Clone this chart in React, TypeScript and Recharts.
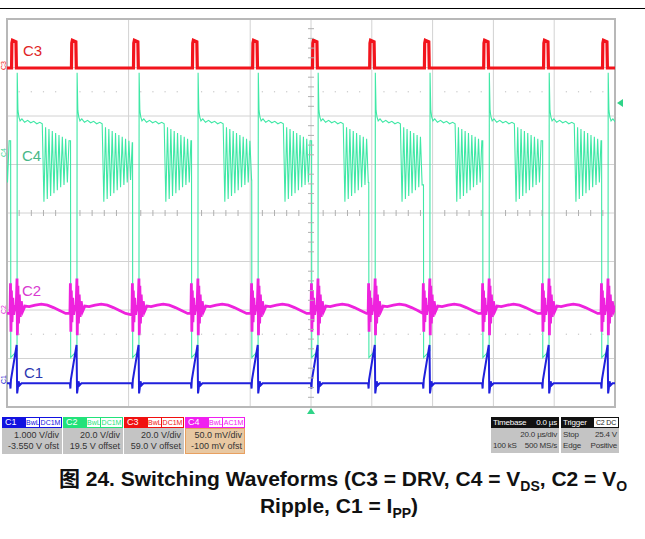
import React from "react";
import {
  ComposedChart,
  Line,
  XAxis,
  YAxis,
  CartesianGrid,
  Scatter,
  ReferenceDot,
  ReferenceArea,
} from "recharts";

// scope screen: 10 div x 20 µs, 8 vertical divisions; trace values are in divisions from the bottom
// (the 20 µs and 60 µs graticule lines are not visible in the capture)
const timeTicks = [0, 40, 80, 100, 120, 140, 160, 180, 200];
const divTicks = [0, 1, 2, 3, 4, 5, 6, 7, 8];

// turn-off instants of each switching cycle (µs)
const switchOff = [-16.4, 3.3, 23.0, 43.4, 62.8, 82.6, 102.3, 121.1, 139.1, 158.6, 178.3, 197.7, 217.2];
const onTime = 2.1;

// C3 = DRV pulse around each turn-off (dt µs / div)
const drvT = [-1.8, -1.7, -1.5, -0.35, -0.2];
const drvV = [6.99, 7.5, 7.56, 7.53, 6.99];

// C4 = VDS
const vdsOnV = [1.02, 1.16];
const vdsOffT = [0, 0.06, 0.3, 0.6, 1.0, 1.6, 2.5, 3.5, 4.5, 5.5, 6.5, 7.5, 8.3];
const vdsOffV = [1.16, 6.89, 6.12, 5.98, 5.9, 5.94, 5.87, 5.91, 5.86, 5.89, 5.84, 5.87, 5.84];
const ringStep = 0.55;
const vdsRing = [4.23, 5.77, 4.29, 5.73, 4.35, 5.69, 4.41, 5.65, 4.47, 5.61, 4.53, 5.57, 4.58, 5.53, 4.63, 5.49, 4.68, 5.45, 4.72, 5.42, 4.75, 5.4, 4.78, 5.38];

// C2 = VO ripple
const rippleSpikeT = [-2.3, -2.15, -2.0, -1.85, -1.65, -1.4, -1.1, -0.7, -0.3, 0, 0.12, 0.3, 0.5, 0.75, 1.05, 1.4, 1.9, 2.6];
const rippleSpikeV = [1.93, 2.55, 1.55, 2.4, 1.75, 2.25, 1.9, 2.1, 1.98, 2.65, 1.48, 2.5, 1.72, 2.32, 1.86, 2.18, 1.98, 2.08];
const rippleArcT = [4, 6, 8, 10, 12, 14, 16, 18];
const rippleArcV = [2.07, 2.1, 2.12, 2.1, 2.05, 1.99, 1.93, 1.9];

// C1 = IPP
const ippT = [-2.3, -2.15, -2.0, -0.12, 0.04, 0.25, 0.5, 0.9, 1.5];
const ippV = [0.49, 0.38, 0.56, 1.28, 0.28, 0.38, 0.53, 0.45, 0.49];

// minor graticule marks
const minorT = [4, 8, 12, 16, 24, 28, 32, 36, 44, 48, 52, 56, 64, 68, 72, 76, 84, 88, 92, 96, 104, 108, 112, 116, 124, 128, 132, 136, 144, 148, 152, 156, 164, 168, 172, 176, 184, 188, 192, 196];
const minorDiv = [0.2, 0.4, 0.6, 0.8, 1.2, 1.4, 1.6, 1.8, 2.2, 2.4, 2.6, 2.8, 3.2, 3.4, 3.6, 3.8, 4.2, 4.4, 4.6, 4.8, 5.2, 5.4, 5.6, 5.8, 6.2, 6.4, 6.6, 6.8, 7.2, 7.4, 7.6, 7.8];
const dotRows = [6.5, 1.5];

const chanBoxes = [
  { ch: "C1", color: "#1212e0", cpl: "DC1M", scale: "1.000 V/div", ofs: "-3.550 V ofst", body: "#c4c4c4", edge: "#c4c4c4" },
  { ch: "C2", color: "#22e27a", cpl: "DC1M", scale: "20.0 V/div", ofs: "19.5 V offset", body: "#c4c4c4", edge: "#c4c4c4" },
  { ch: "C3", color: "#f01010", cpl: "DC1M", scale: "20.0 V/div", ofs: "59.0 V offset", body: "#c4c4c4", edge: "#c4c4c4" },
  { ch: "C4", color: "#f020f0", cpl: "AC1M", scale: "50.0 mV/div", ofs: "-100 mV ofst", body: "#e8c8a2", edge: "#e8a060" },
];

type Pt = { t: number; v: number };

function buildDrv(): Pt[] {
  const out: Pt[] = [];
  switchOff.forEach((T) => drvT.forEach((dt, k) => out.push({ t: T + dt, v: drvV[k] })));
  return out;
}

function buildVds(): Pt[] {
  const out: Pt[] = [];
  for (let i = 0; i < switchOff.length - 1; i++) {
    const T = switchOff[i];
    const next = switchOff[i + 1];
    const nextOn = next - onTime;
    vdsOffT.forEach((dt, k) => out.push({ t: T + dt, v: vdsOffV[k] }));
    let t = T + vdsOffT[vdsOffT.length - 1];
    let last = vdsOffV[vdsOffV.length - 1];
    for (let k = 0; k < vdsRing.length; k++) {
      t += ringStep;
      if (t >= nextOn) break;
      out.push({ t, v: vdsRing[k] });
      last = vdsRing[k];
    }
    out.push({ t: nextOn, v: last });
    out.push({ t: nextOn + 0.05, v: vdsOnV[0] });
    out.push({ t: next - 0.02, v: vdsOnV[1] });
  }
  return out;
}

function buildRipple(): Pt[] {
  const out: Pt[] = [];
  switchOff.forEach((T, i) => {
    rippleSpikeT.forEach((dt, k) => out.push({ t: T + dt, v: rippleSpikeV[k] }));
    const next = switchOff[i + 1];
    if (next === undefined) return;
    rippleArcT.forEach((dt, k) => {
      if (T + dt < next + rippleSpikeT[0]) out.push({ t: T + dt, v: rippleArcV[k] });
    });
  });
  return out;
}

function buildIpp(): Pt[] {
  const out: Pt[] = [];
  switchOff.forEach((T) => ippT.forEach((dt, k) => out.push({ t: T + dt, v: ippV[k] })));
  return out;
}

const hTickData = minorT.map((t) => ({ t, v: 4 }));
const vTickData = minorDiv.map((v) => ({ t: 100, v }));
const dotData = dotRows.flatMap((v) => minorT.map((t) => ({ t, v })));

const narrow = "'Liberation Sans Narrow', 'Liberation Sans', Arial, sans-serif";

function ChannelBox({ b, left }: { b: (typeof chanBoxes)[number]; left: number }) {
  return (
    <div style={{ position: "absolute", left, top: 417, width: 60, height: 37, fontFamily: narrow, fontSize: 9 }}>
      <div style={{ position: "absolute", left: 0, top: 0, width: 60, height: 11, background: b.color }}>
        <span style={{ position: "absolute", left: 3, top: 0, color: "#fff", lineHeight: "11px" }}>{b.ch}</span>
        <span style={{ position: "absolute", left: 24, top: 1, width: 13, height: 9, background: "#fff", color: b.color, fontSize: 7, lineHeight: "9px", textAlign: "center" }}>BwL</span>
        <span style={{ position: "absolute", left: 38, top: 1, width: 21, height: 9, background: "#fff", color: b.color, fontSize: 7, lineHeight: "9px", textAlign: "center" }}>{b.cpl}</span>
      </div>
      <div style={{ position: "absolute", left: 0, top: 11, width: 58, height: 24, background: b.body, border: `1px solid ${b.edge}`, color: "#333", textAlign: "right", lineHeight: "11px" }}>
        <div style={{ paddingRight: 2, paddingTop: 1 }}>{b.scale}</div>
        <div style={{ paddingRight: 2 }}>{b.ofs}</div>
      </div>
    </div>
  );
}

function InfoBox({ left, width, head, headRight, rows }: { left: number; width: number; head: string; headRight: React.ReactNode; rows: [string, string][] }) {
  return (
    <div style={{ position: "absolute", left, top: 417, width, height: 37, fontFamily: narrow, fontSize: 8, letterSpacing: -0.2 }}>
      <div style={{ position: "absolute", left: 0, top: 0, width, height: 11, background: "#111", color: "#fff", lineHeight: "11px" }}>
        <span style={{ position: "absolute", left: 2 }}>{head}</span>
        {headRight}
      </div>
      <div style={{ position: "absolute", left: 0, top: 11, width, height: 25, background: "#c4c4c4", color: "#333", lineHeight: "11px" }}>
        {rows.map(([l, r], i) => (
          <div key={i} style={{ position: "relative", height: 11, marginTop: i === 0 ? 1 : 0 }}>
            <span style={{ position: "absolute", left: 2 }}>{l}</span>
            <span style={{ position: "absolute", right: 2 }}>{r}</span>
          </div>
        ))}
      </div>
    </div>
  );
}

const traceLabel = (text: string, color: string, left: number, top: number) => (
  <div style={{ position: "absolute", left, top, color, fontFamily: "'Liberation Sans', Arial, sans-serif", fontSize: 15, lineHeight: "15px" }}>{text}</div>
);

const edgeMarker = (text: string, color: string, top: number) => (
  <div style={{ position: "absolute", left: -4, top, width: 14, height: 7, color, fontFamily: narrow, fontSize: 7, lineHeight: "7px", transform: "rotate(-90deg)", textAlign: "center" }}>{text}</div>
);

const subStyle: React.CSSProperties = { fontSize: 14, verticalAlign: -5, lineHeight: 0 };

export default function App() {
  const drv = buildDrv();
  const vds = buildVds();
  const ripple = buildRipple();
  const ipp = buildIpp();

  return (
    <div style={{ position: "absolute", left: 0, top: 0, width: 645, height: 539, background: "#fff", overflow: "hidden" }}>
      <div style={{ position: "absolute", left: 0, top: 7.5, width: 645, height: 1.5, background: "#000" }} />

      <ComposedChart width={645} height={539} margin={{ top: 19, left: 7, right: 30, bottom: 132 }} style={{ position: "absolute", left: 0, top: 0 }}>
        <CartesianGrid stroke="#d2d2d2" strokeWidth={1} />
        <XAxis dataKey="t" type="number" domain={[0, 200]} ticks={timeTicks} allowDataOverflow hide />
        <YAxis dataKey="v" type="number" domain={[0, 8]} ticks={divTicks} allowDataOverflow hide />
        <ReferenceArea x1={0} x2={200} y1={0} y2={8} fill="none" stroke="#b8b8b8" strokeWidth={2} />
        <Scatter data={hTickData} isAnimationActive={false} shape={(p: any) => <line x1={p.cx} x2={p.cx} y1={p.cy - 3} y2={p.cy + 3} stroke="#b0b0b0" />} />
        <Scatter data={vTickData} isAnimationActive={false} shape={(p: any) => <line x1={p.cx - 3} x2={p.cx + 3} y1={p.cy} y2={p.cy} stroke="#b0b0b0" />} />
        <Scatter data={dotData} isAnimationActive={false} shape={(p: any) => <rect x={p.cx - 0.6} y={p.cy - 0.6} width={1.2} height={1.2} fill="#c8c8c8" />} />

        <Line data={vds} dataKey="v" type="linear" stroke="#3fe8a6" strokeWidth={1.1} dot={false} isAnimationActive={false} />
        <Line data={ripple} dataKey="v" type="linear" stroke="#ee22dd" strokeWidth={2.8} dot={false} isAnimationActive={false} />
        <Line data={ipp} dataKey="v" type="linear" stroke="#2020dc" strokeWidth={2} dot={false} isAnimationActive={false} />
        <Line data={drv} dataKey="v" type="linear" stroke="#f2141c" strokeWidth={3.2} dot={false} isAnimationActive={false} />

        <ReferenceDot x={100} y={0} r={0} ifOverflow="visible" shape={(p: any) => <polygon points={`${p.cx},${p.cy + 1} ${p.cx - 4},${p.cy + 7} ${p.cx + 4},${p.cy + 7}`} fill="#2fd488" />} />
        <ReferenceDot x={200} y={6.27} r={0} ifOverflow="visible" shape={(p: any) => <polygon points={`${p.cx + 2},${p.cy} ${p.cx + 8},${p.cy - 4} ${p.cx + 8},${p.cy + 4}`} fill="#2fd488" />} />
      </ComposedChart>

      {traceLabel("C3", "#e02424", 23, 43)}
      {traceLabel("C4", "#48b888", 22, 148)}
      {traceLabel("C2", "#d83ad0", 22, 283)}
      {traceLabel("C1", "#2a36b0", 24, 365)}

      {edgeMarker("C3", "#f01818", 62)}
      {edgeMarker("C4", "#3fd898", 149)}
      {edgeMarker("C2", "#e030d8", 306)}
      {edgeMarker("C1", "#2020d0", 376)}

      {chanBoxes.map((b, i) => (
        <ChannelBox key={b.ch} b={b} left={2 + i * 61} />
      ))}

      <InfoBox
        left={491}
        width={68}
        head="Timebase"
        headRight={<span style={{ position: "absolute", right: 2 }}>0.0 µs</span>}
        rows={[["", "20.0 µs/div"], ["100 kS", "500 MS/s"]]}
      />
      <InfoBox
        left={561}
        width={58}
        head="Trigger"
        headRight={<span style={{ position: "absolute", right: 1, top: 1, height: 9, lineHeight: "9px", fontSize: 7, background: "#fff", color: "#222", padding: "0 2px" }}>C2 DC</span>}
        rows={[["Stop", "25.4 V"], ["Edge", "Positive"]]}
      />

      <div style={{ position: "absolute", left: 0, top: 465, width: 686, textAlign: "center", whiteSpace: "nowrap", fontFamily: "'Liberation Sans', Arial, 'Noto Sans CJK SC', sans-serif", fontWeight: 700, fontSize: 21, lineHeight: "27px", color: "#111" }}>
        <div>
          图 24. Switching Waveforms (C3 = DRV, C4 = V<sub style={subStyle}>DS</sub>, C2 = V<sub style={subStyle}>O</sub>
        </div>
        <div style={{ marginRight: 8 }}>
          Ripple, C1 = I<sub style={subStyle}>PP</sub>)
        </div>
      </div>
    </div>
  );
}
